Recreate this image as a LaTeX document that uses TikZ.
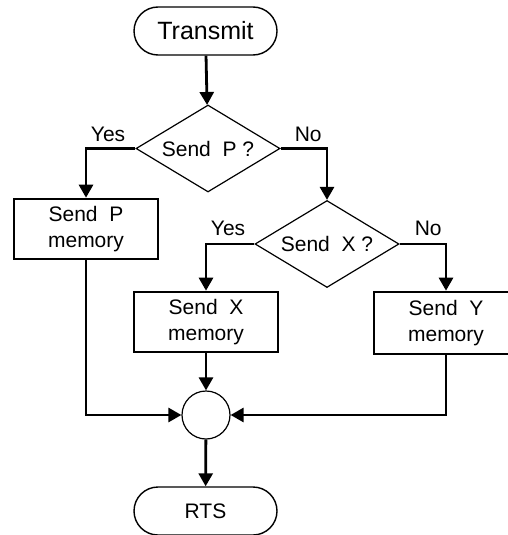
\documentclass[tikz,border=0pt]{standalone}
\usepackage{fontspec}
\setmainfont{Liberation Sans}
\usetikzlibrary{shapes.geometric,shapes.misc,arrows.meta}

\tikzset{
    terminal/.style={draw, line width=1.4pt, rounded rectangle, minimum width=143pt, minimum height=48pt, inner sep=0pt},
    decision/.style={draw, line width=1.2pt, diamond, aspect=1.65, minimum width=144pt, minimum height=87pt, inner sep=0pt},
    process/.style={draw, line width=2.6pt, rectangle, minimum width=144pt, minimum height=60pt, inner sep=0pt, align=center},
    junction/.style={draw, line width=1.2pt, circle, minimum size=48pt, inner sep=0pt},
    flow/.style={line width=2.8pt, -{Triangle[length=13pt,width=14pt]}},
    lbl/.style={inner sep=0pt},
}

\begin{document}
\begin{tikzpicture}[x=1pt, y=-1pt, font=\fontsize{21}{26.5}\selectfont]
    \useasboundingbox (0,0) rectangle (508,535);

    % Draw blocks
    \node[terminal, font=\fontsize{25}{28}\selectfont] (transmit) at (205.5,31) {Transmit};
    \node[decision] (sendp) at (208,148.5) {Send~~P ?};
    \node[process] (memp) at (86,229) {Send~~P\\memory};
    \node[decision] (sendx) at (327,244) {Send~~X ?};
    \node[process] (memx) at (206,322) {Send~~X\\memory};
    \node[process, minimum height=62pt] (memy) at (446,323) {Send~~Y\\memory};
    \node[junction] (merge) at (206,415) {};
    \node[terminal] (rts) at (205.5,511) {RTS};

    % Yes / No labels
    \node[lbl, anchor=south east] (yesp) at ([xshift=-10pt, yshift=7pt]sendp.west) {Yes};
    \node[lbl, anchor=south west] (nop) at ([xshift=14pt, yshift=7pt]sendp.east) {No};
    \node[lbl, anchor=south east] (yesx) at ([xshift=-9pt, yshift=8pt]sendx.west) {Yes};
    \node[lbl, anchor=south west] (nox) at ([xshift=15pt, yshift=8pt]sendx.east) {No};

    % Draw connectors
    \draw[flow] (transmit) -- (sendp);
    \draw[flow] (sendp.west) -| (memp.north);
    \draw[flow] (sendp.east) -| (sendx.north);
    \draw[flow] (sendx.west) -| (memx.north);
    \draw[flow] (sendx.east) -| (memy.north);
    \draw[flow] (memp.south) |- (merge.west);
    \draw[flow] (memx) -- (merge);
    \draw[flow] (memy.south) |- (merge.east);
    \draw[flow] (merge) -- (rts);

\end{tikzpicture}
\end{document}
